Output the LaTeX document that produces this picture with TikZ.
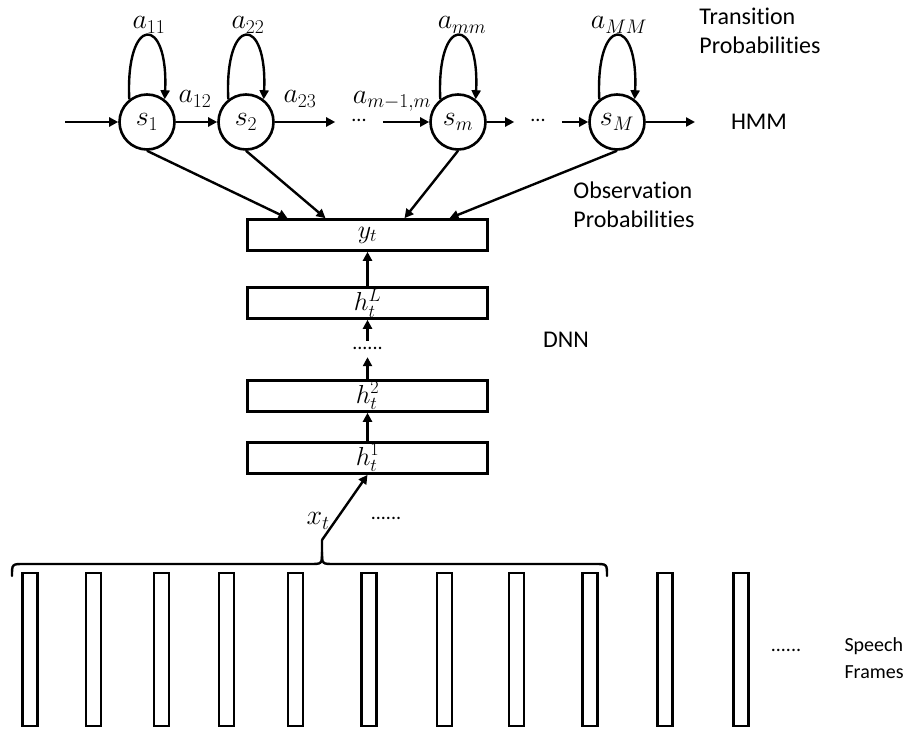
\RequirePackage{fix-cm}
\documentclass[tikz,border=0pt]{standalone}
\usepackage{fontspec}
\setmainfont{Carlito}[Ligatures=NoCommon]
\usetikzlibrary{arrows.meta, calc}

\begin{document}
\begin{tikzpicture}[x=1pt, y=1pt,
        every node/.style={font=\fontsize{24}{29}\selectfont},
        math/.style={font=\fontsize{28}{32}\selectfont},
        state/.style={circle, draw, line width=2.6pt, minimum size=55pt, inner sep=0pt,
        font=\fontsize{28}{32}\selectfont},
        layer/.style={rectangle, draw, line width=2.6pt, minimum width=240pt,
        minimum height=31pt, inner sep=0pt, font=\fontsize{26}{30}\selectfont},
        frame_bar/.style={rectangle, draw, line width=2.4pt, minimum width=15pt,
        minimum height=153pt, inner sep=0pt},
        dots/.style={font=\fontsize{20}{24}\selectfont, text height=2pt, text depth=2pt, inner sep=6pt},
        arrow/.style={-{Triangle[length=9pt, width=9pt]}, line width=2.4pt},
        brace/.style={line width=2.4pt, line cap=round}
    ]
    \useasboundingbox (0,0) rectangle (912,732);

    % HMM states
    \node[state] (s1) at (147,610) {$s_1$};
    \node[state] (s2) at (246,610) {$s_2$};
    \node[state] (sm) at (458,610) {$s_m$};
    \node[state] (sM) at (617,610) {$s_M$};
    \node[dots, inner xsep=16pt] (d1) at (359,610) {...};
    \node[dots, inner xsep=16pt] (d2) at (538,610) {...};
    \coordinate (in)  at (65,610);
    \coordinate (out) at (695,610);

    % transitions
    \draw[arrow] (in) -- (s1);
    \draw[arrow] (s1) -- (s2);
    \draw[arrow] (s2) -- (d1);
    \draw[arrow] (d1) -- (sm);
    \draw[arrow] (sm) -- (d2);
    \draw[arrow] (d2) -- (sM);
    \draw[arrow] (sM) -- (out);

    % self loops
    \draw[arrow] (s1.128) .. controls +(-4,85) and +(4,85) .. (s1.52);
    \draw[arrow] (s2.128) .. controls +(-4,85) and +(4,85) .. (s2.52);
    \draw[arrow] (sm.128) .. controls +(-4,85) and +(4,85) .. (sm.52);
    \draw[arrow] (sM.128) .. controls +(-4,85) and +(4,85) .. (sM.52);

    \node[math] (a11) at (149,707) {$a_{11}$};
    \node[math] (a22) at (248,707) {$a_{22}$};
    \node[math] (amm) at (462,707) {$a_{mm}$};
    \node[math] (aMM) at (619,707) {$a_{MM}$};
    \node[math] (a12) at (195,633) {$a_{12}$};
    \node[math] (a23) at (300,633) {$a_{23}$};
    \node[math] (am)  at (392,631) {$a_{m-1,m}$};

    % side labels
    \node[align=left] (trans) at (760,701) {Transition\\Probabilities};
    \node (hmm) at (759,610) {HMM};
    \node[align=left] (obs) at (634,527) {Observation\\Probabilities};
    \node (dnn) at (566,392) {DNN};

    % DNN layers
    \node[layer] (yt) at (367.5,497) {$y_t$};
    \node[layer] (hL) at (367.5,429) {$h_t^L$};
    \node[dots] (vd) at (367.5,383) {......};
    \node[layer] (h2) at (367.5,336) {$h_t^2$};
    \node[layer] (h1) at (367.5,274) {$h_t^1$};

    \draw[arrow] (hL) -- (yt);
    \draw[arrow] (vd) -- (hL);
    \draw[arrow] (h2) -- (vd);
    \draw[arrow] (h1) -- (h2);

    % observation probabilities
    \draw[arrow] (s1.south) -- ([xshift=-80pt]yt.north);
    \draw[arrow] (s2.south) -- ([xshift=-42pt]yt.north);
    \draw[arrow] (sm.south) -- ([xshift=37pt]yt.north);
    \draw[arrow] (sM.south) -- ([xshift=82pt]yt.north);

    % speech frames
    \foreach \x [count=\i] in {30,93.5,161.5,226.5,295.5,369,444.5,516.5,590,665,741}
        \node[frame_bar] (f\i) at (\x,82.5) {};

    % brace over the input window
    \coordinate (tip) at (322,192);
    \draw[brace] (12,156) .. controls (12,168) .. (24,168) -- (310,168)
        .. controls (322,168) .. (322,180) -- (tip);
    \draw[brace] (322,180) .. controls (322,168) .. (334,168) -- (595,168)
        .. controls (607,168) .. (607,156);

    \draw[arrow] (tip) -- (h1.south);
    \node[math] (xt) at (318,211) {$x_t$};
    \node[dots] (xd) at (386,213) {......};

    \node[dots] (fd) at (786,81) {......};
    \node[align=left, anchor=west, font=\fontsize{20}{27}\selectfont] (speech) at (841,74)
        {Speech\\Frames};

\end{tikzpicture}
\end{document}
